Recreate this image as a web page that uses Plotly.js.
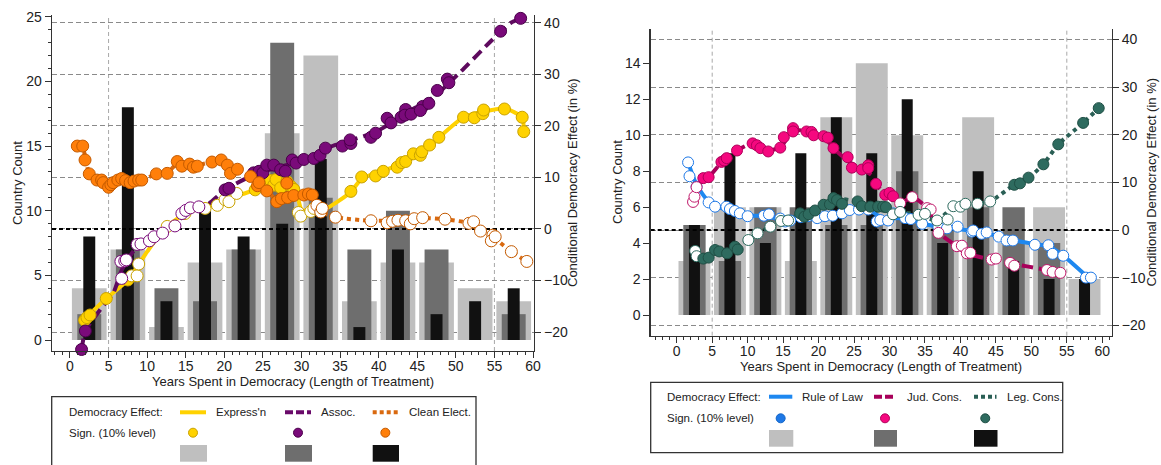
<!DOCTYPE html>
<html><head><meta charset="utf-8">
<script src="https://cdn.plot.ly/plotly-3.0.1.min.js"></script>
<style>html,body{margin:0;padding:0;background:#fff}#chart{width:1161px;height:465px}</style>
</head><body><div id="chart"></div>
<script>
// ---------- bar data (country counts per 5-year bin) ----------
const bins = [2.5, 7.5, 12.5, 17.5, 22.5, 27.5, 32.5, 37.5, 42.5, 47.5, 52.5, 57.5];
const exprCount  = [4, 7, 1, 6, 7, 16, 22, 3, 6, 6, 4, 3];
const assocCount = [2, 7, 4, 3, 7, 23, 11, 7, 10, 7, 0, 2];
const cleanCount = [8, 18, 3, 10, 8, 9, 14, 1, 7, 2, 3, 4];
const rolCount   = [3, 6, 6, 3, 11, 14, 10, 5, 11, 4, 6, 2];
const judCount   = [5, 3, 6, 6, 5, 5, 8, 5, 6, 6, 4, 0];
const legCount   = [5, 9, 4, 9, 11, 9, 12, 4, 8, 3, 2, 2];

// ---------- Express'n ----------
const exprX = [1.9, 2.2, 2.6, 4.7, 7.5, 8.0, 8.7, 8.9, 12.6, 14.9, 17.5, 19.1, 20.1, 20.6, 21.6,
  24.0, 25.5, 26.0, 26.4, 26.7, 27.3, 28.1, 28.6, 29.0, 29.6, 29.9, 31.2, 31.6,
  36.4, 37.8, 39.6, 40.6, 42.4, 43.0, 43.5, 44.5, 45.4, 45.6, 46.6, 47.8, 51.0, 52.4, 53.5, 53.6, 56.3, 58.6, 58.8];
const exprEff = [-17.7, -17.2, -16.7, -13.5, -9.9, -9.1, -9.1, -6.8, 0.5, 3.0, 4.0, 4.6, 5.7, 5.3, 6.9,
  7.6, 8.9, 9.4, 8.5, 9.6, 8.0, 9.2, 8.3, 7.7, 3.2, 2.5, 3.4, 4.0,
  7.3, 10.1, 10.3, 11.2, 12.0, 12.9, 13.1, 14.6, 14.3, 15.0, 16.3, 17.8, 21.7, 21.6, 22.4, 23.1, 23.3, 21.7, 18.9];
const exprSig = [1, 1, 1, 1, 1, 0, 0, 0, 0, 0, 0, 0, 0, 0, 0,
  1, 1, 1, 1, 1, 1, 1, 1, 1, 0, 0, 0, 0,
  1, 1, 1, 1, 1, 1, 1, 1, 1, 1, 1, 1, 1, 1, 1, 1, 1, 1, 1];
const exprLineX = [1.9, 4.7, 7.5, 10.0, 12.1, 14.9, 17.0, 19.1, 21.8, 24.0, 26.4, 28.0, 29.4, 30.0, 31.5, 33.1, 36.4, 37.8, 40.6, 43.5, 46.6, 48.0, 51.0, 53.6, 56.3, 58.6, 58.8];
const exprLineY = [-17.5, -13.5, -9.9, -4.4, -0.2, 3.0, 4.0, 4.7, 6.5, 7.6, 9.0, 8.6, 6.6, 3.8, 3.5, 3.9, 7.2, 9.8, 11.3, 13.0, 16.0, 18.0, 21.7, 22.8, 23.4, 21.7, 19.0];

// ---------- Assoc. ----------
const assocX = [1.5, 2.0, 6.7, 6.6, 7.1, 7.3, 8.7, 9.2, 10.3, 10.9, 12.0, 13.6, 14.5, 15.0, 15.6, 16.7,
  20.1, 20.6, 23.8, 24.5, 25.0, 25.5, 26.4, 27.3, 27.9, 28.8, 29.3, 30.3, 31.6, 32.4, 33.1, 35.3, 36.4, 36.3,
  39.0, 39.6, 41.1, 41.6, 42.9, 43.5, 43.4, 44.2, 45.7, 45.4, 46.5, 47.6, 48.9, 49.1, 55.8, 58.4];
const assocEff = [-23.4, -19.8, -9.6, -6.3, -6.2, -6.0, -3.0, -2.9, -2.3, -1.5, -0.8, 0.6, 3.0, 3.6, 4.1, 4.3,
  7.6, 7.9, 10.9, 11.2, 10.9, 12.4, 12.4, 11.5, 11.2, 13.4, 12.8, 13.5, 13.7, 14.3, 15.7, 16.1, 16.6, 17.3,
  17.8, 18.6, 21.5, 20.6, 21.7, 23.2, 22.1, 22.3, 23.8, 23.0, 24.4, 26.9, 29.1, 28.4, 38.4, 40.9];
const assocSig = [1, 1, 0, 0, 0, 0, 0, 0, 0, 0, 0, 0, 0, 0, 0, 0,
  1, 1, 1, 1, 1, 1, 1, 1, 1, 1, 1, 1, 1, 1, 1, 1, 1, 1,
  1, 1, 1, 1, 1, 1, 1, 1, 1, 1, 1, 1, 1, 1, 1, 1];
const assocLineX = [1.5, 2.0, 4.0, 5.6, 6.7, 8.7, 11.0, 13.4, 15.2, 17.8, 20.1, 23.8, 27.0, 30.3, 33.8, 36.5, 39.6, 41.5, 43.5, 47.2, 50.6, 54.5, 57.1, 58.4];
const assocLineY = [-23.4, -19.8, -15.5, -12.5, -8.0, -3.4, -1.5, 0.5, 3.4, 4.7, 7.6, 10.5, 12.0, 13.3, 16.0, 17.3, 18.8, 20.5, 22.5, 25.7, 30.5, 36.4, 40.0, 40.9];

// ---------- Clean Elect. ----------
const cleanX = [0.95, 1.65, 1.95, 2.5, 3.5, 4.1, 4.3, 5.0, 5.3, 5.6, 6.2, 6.7, 7.2, 7.8, 8.3, 8.9, 9.3,
  11.2, 12.6, 13.9, 14.5, 15.5, 16.0, 16.5, 18.4, 19.6, 20.4, 20.8, 21.7, 23.4, 24.3, 24.5, 25.5, 26.8, 27.4, 28.1, 28.2, 29.0, 30.3, 30.9, 31.4,
  32.0, 32.5, 32.7, 34.4, 39.0, 41.1, 41.8, 42.5, 43.5, 44.1, 44.6, 45.7, 48.6, 51.7, 52.3, 53.2, 54.8, 54.6, 55.1, 57.2, 59.2];
const cleanEff = [16.1, 16.1, 13.4, 10.7, 9.5, 9.5, 9.0, 8.1, 8.6, 9.0, 9.5, 9.8, 9.4, 9.0, 9.3, 9.5, 9.5,
  10.7, 10.8, 13.1, 12.2, 12.6, 12.0, 12.2, 13.0, 13.4, 12.4, 10.8, 11.6, 10.2, 8.4, 9.0, 7.4, 5.3, 5.9, 8.9, 6.1, 6.5, 6.6, 6.8, 6.6,
  4.6, 3.3, 4.0, 2.3, 1.6, 1.2, 1.5, 1.7, 1.6, 1.0, 2.0, 2.2, 1.9, 1.1, 1.4, -0.4, -1.2, -2.3, -1.5, -4.4, -6.3];
const cleanSig = [1, 1, 1, 1, 1, 1, 1, 1, 1, 1, 1, 1, 1, 1, 1, 1, 1,
  1, 1, 1, 1, 1, 1, 1, 1, 1, 1, 1, 1, 1, 1, 1, 1, 1, 1, 1, 1, 1, 1, 1, 1,
  0, 0, 0, 0, 0, 0, 0, 0, 0, 0, 0, 0, 0, 0, 0, 0, 0, 0, 0, 0, 0];
const cleanLineX = [1.0, 1.8, 2.5, 3.5, 5.0, 7.0, 9.3, 11.2, 12.6, 14.0, 16.0, 18.5, 20.0, 21.5, 23.4, 25.5, 27.0, 29.0, 30.5, 32.5, 34.4, 39.0, 42.5, 45.7, 48.6, 51.7, 53.2, 55.0, 57.2, 59.2];
const cleanLineY = [16.1, 15.0, 10.7, 9.5, 8.5, 9.5, 9.5, 10.7, 11.0, 12.7, 12.3, 13.0, 13.0, 11.6, 10.2, 7.3, 5.6, 6.3, 6.6, 3.4, 2.3, 1.6, 1.7, 2.1, 1.9, 1.1, -0.4, -1.8, -4.4, -6.3];

// ---------- Rule of Law ----------
const rolX = [1.6, 1.8, 2.8, 4.5, 5.4, 7.0, 7.5, 8.2, 8.9, 10.0, 12.3, 13.0, 14.6, 15.3, 16.0, 17.5, 18.5, 19.8, 20.9, 22.0, 23.3, 24.4, 25.7, 27.0,
  28.2, 28.7, 29.8, 30.5, 32.2, 33.0, 34.6, 36.9, 38.1, 39.6, 41.6, 41.8, 43.0, 43.7, 45.4, 46.5, 47.4, 50.5, 52.4, 53.0, 54.5, 57.7, 58.4];
const rolEff = [14.2, 11.3, 9.1, 5.8, 4.9, 4.9, 4.4, 4.0, 3.5, 2.9, 3.0, 3.3, 2.4, 1.8, 2.0, 2.7, 2.9, 2.5, 2.9, 3.0, 3.5, 4.2, 4.3, 4.3,
  1.8, 2.1, 2.0, 3.5, 2.5, 2.3, 1.3, 0.6, 0.35, 0.7, -0.35, -0.1, -0.8, -0.5, -1.4, -2.2, -2.2, -3.1, -3.2, -5.0, -5.4, -10.0, -10.0];
const rolSig = rolX.map(() => 0);
const rolLineX = [1.6, 2.8, 4.5, 7.0, 10.0, 12.3, 15.0, 18.0, 21.0, 24.0, 27.0, 29.0, 32.0, 35.0, 38.0, 42.0, 45.5, 48.0, 50.7, 52.5, 54.5, 58.0];
const rolLineY = [14.2, 9.5, 6.0, 4.2, 3.0, 3.0, 2.2, 2.6, 3.0, 4.0, 4.3, 2.5, 2.5, 1.2, 0.5, -0.3, -1.3, -2.3, -3.0, -3.5, -5.4, -10.0];

// ---------- Jud. Cons. ----------
const judX = [2.3, 2.5, 2.8, 3.75, 4.5, 6.3, 6.7, 7.05, 8.5, 10.7, 11.3, 11.8, 12.9, 14.6, 15.1, 16.4, 16.4, 18.3, 19.0, 19.3, 20.7, 21.3, 22.1, 24.1, 24.7, 26.1, 27.0, 27.0, 28.1, 29.4, 30.0, 30.5,
  31.5, 33.2, 35.3, 35.8, 36.9, 39.5, 40.2, 40.9, 41.4, 44.4, 45.0, 47.0, 47.6, 52.2, 53.0, 54.1];
const judEff = [5.9, 7.0, 9.0, 10.9, 11.1, 14.3, 14.6, 15.1, 16.7, 18.2, 17.8, 17.2, 16.5, 17.3, 19.5, 21.4, 20.7, 20.7, 20.6, 19.9, 19.7, 19.4, 17.2, 15.3, 13.1, 12.7, 13.6, 13.0, 9.7, 7.4, 7.8, 7.1,
  5.6, 6.9, 4.6, 4.3, -0.6, -3.4, -3.3, -4.9, -4.8, -6.2, -6.0, -6.9, -7.5, -8.4, -8.8, -9.0];
const judSig = [0, 0, 0, 1, 1, 1, 1, 1, 1, 1, 1, 1, 1, 1, 1, 1, 1, 1, 1, 1, 1, 1, 1, 1, 1, 1, 1, 1, 1, 1, 1, 1,
  0, 0, 0, 0, 0, 0, 0, 0, 0, 0, 0, 0, 0, 0, 0, 0];
const judLineX = [2.3, 3.0, 4.5, 6.5, 8.5, 10.7, 12.5, 14.6, 16.4, 18.3, 20.7, 22.1, 24.4, 26.1, 27.5, 28.1, 29.4, 31.5, 33.2, 35.3, 37.0, 39.5, 41.0, 44.4, 47.0, 52.2, 54.1];
const judLineY = [5.9, 9.5, 11.1, 14.5, 16.7, 18.2, 16.8, 17.3, 21.0, 20.7, 19.7, 17.2, 14.2, 12.7, 11.5, 9.7, 7.5, 5.6, 6.9, 4.6, -0.6, -3.4, -5.0, -6.2, -7.0, -8.4, -9.0];

// ---------- Leg. Cons. ----------
const legX = [2.6, 2.8, 3.75, 4.5, 5.4, 6.0, 7.1, 8.2, 8.6, 10.1, 11.4, 13.2, 14.7, 15.7,
  17.4, 18.0, 18.6, 19.5, 20.7, 21.6, 22.1, 22.6, 23.3, 25.5, 26.1, 27.3, 28.4, 29.1, 29.5,
  30.5, 31.5, 34.1, 35.0, 36.7, 38.2, 39.0, 40.0, 40.7, 42.4, 44.2,
  47.6, 48.4, 49.6, 51.7, 53.8, 57.3, 59.5];
const legEff = [-4.4, -5.5, -6.0, -5.8, -4.2, -4.5, -4.9, -3.5, -4.1, -2.1, -0.7, 0.7, 1.9, 2.0,
  3.5, 2.8, 3.3, 4.1, 5.3, 5.4, 6.7, 6.3, 5.5, 6.0, 5.0, 4.9, 4.9, 4.9, 4.8,
  3.3, 3.8, 3.2, 3.4, 2.0, 2.2, 5.0, 4.9, 5.5, 5.5, 6.0,
  9.5, 9.8, 11.0, 13.8, 18.0, 22.5, 25.6];
const legSig = [0, 0, 1, 1, 1, 1, 1, 1, 1, 0, 0, 0, 0, 0,
  1, 1, 1, 1, 1, 1, 1, 1, 1, 1, 1, 1, 1, 1, 1,
  0, 0, 0, 0, 0, 0, 0, 0, 0, 0, 0,
  1, 1, 1, 1, 1, 1, 1];
const legLineX = [2.6, 3.75, 5.4, 7.1, 8.2, 10.1, 11.4, 13.2, 15.7, 17.4, 19.5, 22.1, 25.5, 27.3, 29.5, 31.5, 34.1, 36.7, 39.0, 42.5, 44.2, 47.6, 49.6, 51.7, 53.8, 57.3, 59.5];
const legLineY = [-4.4, -6.0, -4.8, -4.9, -3.5, -2.1, -0.7, 0.7, 2.0, 3.5, 4.1, 6.5, 6.0, 5.0, 4.5, 3.8, 3.2, 2.0, 4.8, 5.5, 6.0, 9.5, 11.0, 13.8, 18.0, 22.5, 25.6];

const xTicks = [0, 5, 10, 15, 20, 25, 30, 35, 40, 45, 50, 55, 60];
const xTitle = 'Years Spent in Democracy (Length of Treatment)';
const yTitleL = 'Country Count';
const yTitleR = 'Conditional Democracy Effect (in %)';

// ---------- styling ----------
const W = 1161, H = 465;
const FONT = 'Liberation Sans, Arial, Helvetica, sans-serif';
const LIGHT = '#bfbfbf', DARK = '#6e6e6e', BLACK = '#111111';
const px = v => v / W, py = v => 1 - v / H;

const rangeL = {x: [-2.33, 60.13], c: [-0.85, 25.14], e: [-23.69, 41.55]};
const rangeR = {x: [-3.67, 61.33], c: [-1.15, 15.89], e: [-22.2, 42.16]};

function bars(y, w, color, xa, ya) {
  return {type: 'bar', x: bins, y: y, width: bins.map(() => w), marker: {color: color, line: {width: 0}},
    xaxis: xa, yaxis: ya, hoverinfo: 'skip'};
}
function zero(rx, xa, ya) {
  return {type: 'scatter', mode: 'lines', x: rx, y: [0, 0], line: {color: '#000', width: 2, dash: '4px,3px'},
    xaxis: xa, yaxis: ya, hoverinfo: 'skip'};
}
function line(x, y, color, dash, xa, ya) {
  return {type: 'scatter', mode: 'lines', x: x, y: y, line: {color: color, width: 4, dash: dash, shape: 'spline', smoothing: 0.6},
    xaxis: xa, yaxis: ya, hoverinfo: 'skip', cliponaxis: false};
}
function pts(x, y, sig, fill, edge, hollowEdge, size, xa, ya) {
  return {type: 'scatter', mode: 'markers', x: x, y: y,
    marker: {size: size, color: sig.map(s => s ? fill : '#ffffff'),
      line: {width: 1, color: sig.map(s => s ? edge : hollowEdge)}},
    xaxis: xa, yaxis: ya, hoverinfo: 'skip', cliponaxis: false};
}

const traces = [
  bars(exprCount, 4.5, LIGHT, 'x', 'y'),
  bars(assocCount, 3.1, DARK, 'x', 'y'),
  bars(cleanCount, 1.55, BLACK, 'x', 'y'),
  zero(rangeL.x, 'x', 'y2'),
  line(exprLineX, exprLineY, '#ffd200', 'solid', 'x', 'y2'),
  line(assocLineX, assocLineY, '#5e0a5e', '11px,6px', 'x', 'y2'),
  line(cleanLineX, cleanLineY, '#d9690f', '4px,4px', 'x', 'y2'),
  pts(exprX, exprEff, exprSig, '#ffd200', '#c9a200', '#c9a200', 12, 'x', 'y2'),
  pts(assocX, assocEff, assocSig, '#7a0a7a', '#4a004a', '#7a0a7a', 12, 'x', 'y2'),
  pts(cleanX, cleanEff, cleanSig, '#ff7f0a', '#c45a00', '#c45a00', 12, 'x', 'y2'),

  bars(rolCount, 4.5, LIGHT, 'x2', 'y3'),
  bars(judCount, 3.15, DARK, 'x2', 'y3'),
  bars(legCount, 1.55, BLACK, 'x2', 'y3'),
  zero(rangeR.x, 'x2', 'y4'),
  line(rolLineX, rolLineY, '#1e88f0', 'solid', 'x2', 'y4'),
  line(judLineX, judLineY, '#a8005a', '11px,6px', 'x2', 'y4'),
  line(legLineX, legLineY, '#2a5f55', '4px,4px', 'x2', 'y4'),
  pts(rolX, rolEff, rolSig, '#1e78e6', '#1466c8', '#1e78e6', 11, 'x2', 'y4'),
  pts(judX, judEff, judSig, '#f5087f', '#b0005a', '#c0186a', 11, 'x2', 'y4'),
  pts(legX, legEff, legSig, '#2e6b5f', '#1f4f45', '#2e6b5f', 11, 'x2', 'y4')
];

const AX = {showline: true, linecolor: '#333', linewidth: 1.3, zeroline: false, ticks: 'outside', ticklen: 6,
  tickcolor: '#333', tickwidth: 1, tickfont: {family: FONT, size: 14, color: '#222'}, automargin: false, fixedrange: true};
const GRID = {showgrid: true, gridcolor: '#8a8a8a', gridwidth: 1, griddash: '5px,3px'};
const MINOR = {dtick: 1, ticks: 'outside', ticklen: 3, tickcolor: '#333', tickwidth: 1, showgrid: false};

const layout = {
  width: W, height: H, margin: {l: 0, r: 0, t: 0, b: 0}, paper_bgcolor: '#fff', plot_bgcolor: 'rgba(0,0,0,0)',
  showlegend: false, barmode: 'overlay', font: {family: FONT, color: '#222'},
  xaxis: Object.assign({}, AX, {domain: [px(52), px(534)], range: rangeL.x, anchor: 'y', tickvals: xTicks,
    showgrid: false, minor: MINOR, ticklabelstandoff: -4}),
  yaxis: Object.assign({}, AX, {domain: [py(351), py(15)], range: rangeL.c, anchor: 'x', dtick: 5, tick0: 0,
    showgrid: false, minor: MINOR}),
  yaxis2: Object.assign({}, AX, GRID, {overlaying: 'y', side: 'right', anchor: 'x', range: rangeL.e, dtick: 10, tick0: 0}),
  xaxis2: Object.assign({}, AX, {domain: [px(650.7), px(1111.7)], range: rangeR.x, anchor: 'y3', tickvals: xTicks,
    showgrid: false, minor: MINOR, ticklabelstandoff: -4}),
  yaxis3: Object.assign({}, AX, {domain: [py(335.7), py(29.3)], range: rangeR.c, anchor: 'x2', dtick: 2, tick0: 0,
    showgrid: false}),
  yaxis4: Object.assign({}, AX, GRID, {overlaying: 'y3', side: 'right', anchor: 'x2', range: rangeR.e, dtick: 10, tick0: 0}),
  shapes: [],
  annotations: []
};

// vertical reference lines at 5 and 55
[['x', 'y'], ['x2', 'y3']].forEach(([xa, ya]) => {
  [5, 55].forEach(v => layout.shapes.push({type: 'line', xref: xa, yref: ya + ' domain', x0: v, x1: v, y0: 0, y1: 1,
    line: {color: '#a8a8a8', width: 1, dash: '4px,3px'}, layer: 'below'}));
});

function txt(text, x, y, opts) {
  layout.annotations.push(Object.assign({text: text, xref: 'paper', yref: 'paper', x: px(x), y: py(y),
    showarrow: false, font: {family: FONT, size: 13, color: '#222'}, xanchor: 'center', yanchor: 'middle'}, opts || {}));
}
// axis titles
txt(yTitleL, 17, 183, {textangle: -90});
txt(yTitleR, 572, 183, {textangle: -90});
txt(xTitle, 293, 381);
txt(yTitleL, 618, 182, {textangle: -90});
txt(yTitleR, 1151.5, 182, {textangle: -90});
txt(xTitle, 881, 366);

// legends
function legend(box, rows, items, labelX) {
  layout.shapes.push({type: 'rect', xref: 'paper', yref: 'paper', x0: px(box[0]), x1: px(box[1]), y0: py(box[3]), y1: py(box[2]),
    line: {color: '#333', width: 1.3}, fillcolor: 'rgba(0,0,0,0)'});
  const LF = {family: FONT, size: 11.5, color: '#222'};
  txt('Democracy Effect:', labelX, rows[0], {xanchor: 'left', font: LF});
  txt('Sign. (10% level)', labelX, rows[1], {xanchor: 'left', font: LF});
  items.forEach(it => {
    layout.shapes.push({type: 'line', xref: 'paper', yref: 'paper', x0: px(it.l0), x1: px(it.l1), y0: py(rows[0]), y1: py(rows[0]),
      line: {color: it.line, width: 4, dash: it.dash}});
    txt(it.label, it.tx, rows[0], {xanchor: 'left', font: LF});
    const cx = (it.l0 + it.l1) / 2, r = 4.5;
    layout.shapes.push({type: 'circle', xref: 'paper', yref: 'paper', x0: px(cx - r), x1: px(cx + r), y0: py(rows[1] + r), y1: py(rows[1] - r),
      fillcolor: it.fill, line: {color: it.edge, width: 1}});
    layout.shapes.push({type: 'rect', xref: 'paper', yref: 'paper', x0: px(it.l0), x1: px(it.l1 + 1), y0: py(rows[3]), y1: py(rows[2]),
      fillcolor: it.bar, line: {width: 0}});
  });
}
legend([51.7, 476, 396.7, 470], [412.3, 432.7, 445, 461.7], [
  {l0: 180, l1: 206, line: '#ffd200', dash: 'solid', label: "Express'n", tx: 214.3, fill: '#ffd200', edge: '#c9a200', bar: LIGHT},
  {l0: 285, l1: 311, line: '#6a0a6a', dash: '8px,3px', label: 'Assoc.', tx: 319, fill: '#7a0a7a', edge: '#4a004a', bar: DARK},
  {l0: 372.7, l1: 398, line: '#d9690f', dash: '4px,3px', label: 'Clean Elect.', tx: 407.3, fill: '#ff7f0a', edge: '#c45a00', bar: BLACK}
], 66.7);
legend([650.7, 1062.7, 382.3, 452.7], [396.7, 418.3, 430, 446.7], [
  {l0: 769, l1: 792.3, line: '#1e88f0', dash: 'solid', label: 'Rule of Law', tx: 800, fill: '#1e78e6', edge: '#1466c8', bar: LIGHT},
  {l0: 874, l1: 896, line: '#a8005a', dash: '8px,3px', label: 'Jud. Cons.', tx: 905, fill: '#f5087f', edge: '#b0005a', bar: DARK},
  {l0: 974, l1: 996.5, line: '#2a5f55', dash: '4px,3px', label: 'Leg. Cons.', tx: 1005, fill: '#2e6b5f', edge: '#1f4f45', bar: BLACK}
], 665);

Plotly.newPlot('chart', traces, layout, {staticPlot: true, displayModeBar: false});
</script></body></html>
